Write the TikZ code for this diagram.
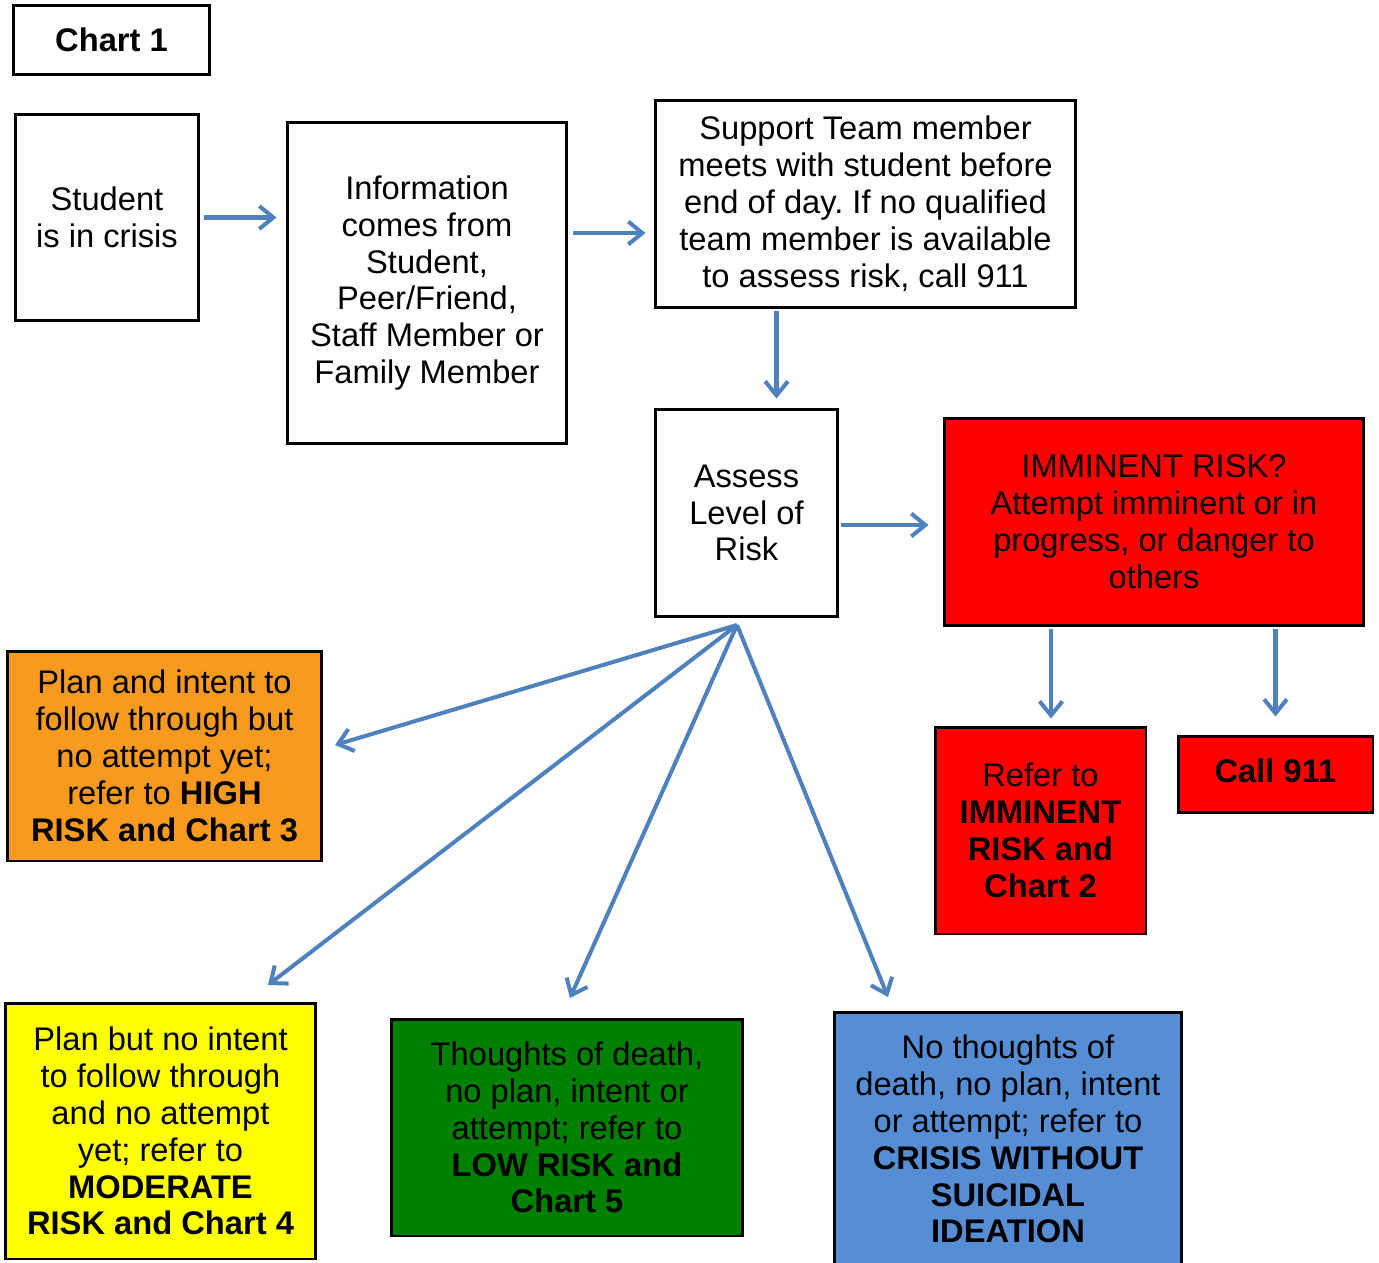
\documentclass[tikz,border=0pt]{standalone}
\usepackage{fontspec}
\setmainfont{Liberation Sans}
\usetikzlibrary{arrows.meta}
\definecolor{arrowblue}{HTML}{4F81BD}
\definecolor{highrisk}{HTML}{F79A1E}
\definecolor{modrisk}{HTML}{FFFF00}
\definecolor{lowrisk}{HTML}{008000}
\definecolor{norisk}{HTML}{558ED5}
\definecolor{imminent}{HTML}{FF0000}
\frenchspacing

\begin{document}
\begin{tikzpicture}[x=0.02cm,y=-0.02cm,
		box/.style={draw=black,line width=1.7pt,align=center,inner sep=0pt,
			font=\fontsize{18.6}{21}\selectfont},
		arr/.style={draw=arrowblue,line width=2.3pt,
			-{Straight Barb[length=8pt,width=13pt]}}]
		\useasboundingbox (0,0) rectangle (1379,1262);
		
		% top row
		\node[box,minimum width=3.94cm,minimum height=1.38cm] (chart) at (111.5,40) {\textbf{Chart 1}};
		\node[box,minimum width=3.68cm,minimum height=4.14cm] (student) at (107,217.5) {Student\\is in crisis};
		\node[box,minimum width=5.60cm,minimum height=6.44cm] (info) at (427,283) {Information\\comes from\\Student,\\Peer/Friend,\\Staff Member or\\Family Member};
		\node[box,minimum width=8.42cm,minimum height=4.16cm] (support) at (865.5,204) {Support Team member\\meets with student before\\end of day. If no qualified\\team member is available\\to assess risk, call 911};
		
		% middle row
		\node[box,minimum width=3.66cm,minimum height=4.16cm] (assess) at (746.5,513) {Assess\\Level of\\Risk};
		\node[box,fill=imminent,minimum width=8.40cm,minimum height=4.16cm] (imm) at (1154,522) {IMMINENT RISK?\\Attempt imminent or in\\progress, or danger to\\others};
		\node[box,fill=imminent,minimum width=4.22cm,minimum height=4.14cm] (refer) at (1040.5,830.5) {Refer to\\\textbf{IMMINENT}\\\textbf{RISK and}\\\textbf{Chart 2}};
		\node[box,fill=imminent,minimum width=3.90cm,minimum height=1.52cm] (call) at (1275.5,774) {\raisebox{0.14cm}{\textbf{Call 911}}};
		\node[box,fill=highrisk,minimum width=6.30cm,minimum height=4.20cm] (high) at (164.5,756) {Plan and intent to\\follow through but\\no attempt yet;\\refer to \textbf{HIGH}\\\textbf{RISK and Chart 3}};
		
		% bottom row
		\node[box,fill=modrisk,minimum width=6.22cm,minimum height=5.12cm] (moderate) at (160.5,1131) {Plan but no intent\\to follow through\\and no attempt\\yet; refer to\\\textbf{MODERATE}\\\textbf{RISK and Chart 4}};
		\node[box,fill=lowrisk,minimum width=7.04cm,minimum height=4.34cm] (low) at (567,1127.5) {Thoughts of death,\\no plan, intent or\\attempt; refer to\\\textbf{LOW RISK and}\\\textbf{Chart 5}};
		\node[box,fill=norisk,minimum width=6.96cm,minimum height=5.08cm] (none) at (1008,1139) {No thoughts of\\death, no plan, intent\\or attempt; refer to\\\textbf{CRISIS WITHOUT}\\\textbf{SUICIDAL}\\\textbf{IDEATION}};
		
		% connectors
		\draw[arr,shorten <=0.08cm,shorten >=0.18cm] (student.east) -- (student.east -| info.west);
		\draw[arr,shorten <=0.1cm,shorten >=0.16cm] ([yshift=-0.58cm]support.west -| info.east) -- ([yshift=-0.58cm]support.west);
		\draw[arr,shorten <=0.04cm,shorten >=0.18cm] ([xshift=0.6cm]assess.north |- support.south) -- ([xshift=0.6cm]assess.north);
		\draw[arr,shorten <=0.04cm,shorten >=0.28cm] ([yshift=-0.24cm]assess.east) -- ([yshift=-0.24cm]assess.east -| imm.west);
		\draw[arr,shorten <=0.04cm,shorten >=0.14cm] ([xshift=0.21cm]refer.north |- imm.south) -- ([xshift=0.21cm]refer.north);
		\draw[arr,shorten <=0.04cm,shorten >=0.36cm] (call.north |- imm.south) -- (call.north);
		
		% fan out of the assessment
		\coordinate (fan) at (737,625);
		\coordinate (toHigh) at (335,745);
		\coordinate (toModerate) at (268,985);
		\coordinate (toLow) at (570,998);
		\coordinate (toNone) at (888,997);
		\foreach \dest in {toHigh,toModerate,toLow,toNone}
			\draw[arr] (fan) -- (\dest);
	\end{tikzpicture}
\end{document}
